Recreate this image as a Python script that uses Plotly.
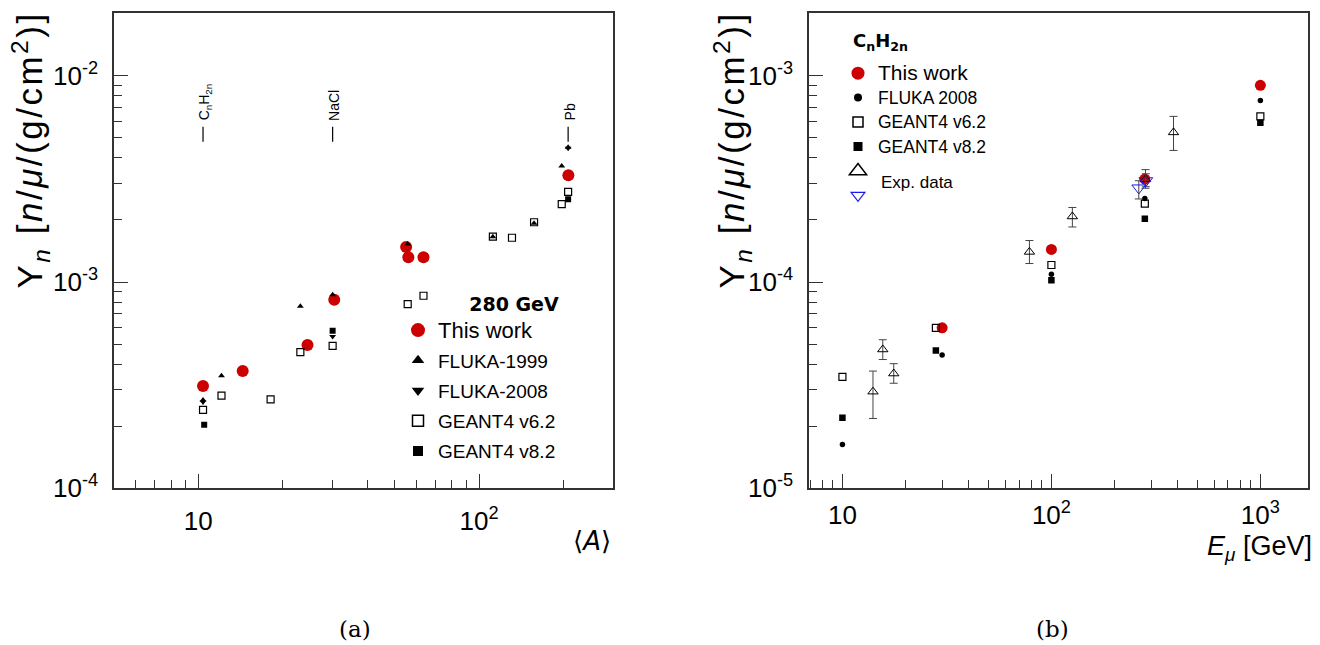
import numpy as np
import plotly.graph_objects as go

# ---------------- Panel (a): 280 GeV, neutron yield vs <A> ----------------
a_this_A = [10.4, 14.4, 24.5, 30.5, 55.0, 56.0, 63.4, 208.0]
a_this_Y = [3.13e-4, 3.70e-4, 4.95e-4, 8.2e-4, 1.48e-3, 1.32e-3, 1.32e-3, 3.30e-3]
a_f99_A = [10.4, 12.1, 23.1, 30.1, 55.7, 112, 157, 197, 207.6]
a_f99_Y = [2.68e-4, 3.51e-4, 7.63e-4, 8.68e-4, 1.53e-3, 1.66e-3, 1.93e-3, 3.65e-3, 4.5e-3]
a_f08_A = [10.4, 30.1, 207.6]
a_f08_Y = [2.62e-4, 5.45e-4, 4.45e-3]
a_g62_A = [10.4, 12.1, 18.1, 23.1, 30.1, 55.7, 63.4, 112, 131, 157, 197, 207.6]
a_g62_Y = [2.40e-4, 2.81e-4, 2.70e-4, 4.57e-4, 4.90e-4, 7.82e-4, 8.58e-4,
           1.66e-3, 1.64e-3, 1.95e-3, 2.39e-3, 2.74e-3]
a_g82_A = [10.5, 30.1, 207.6]
a_g82_Y = [2.03e-4, 5.81e-4, 2.52e-3]
materials = ["C<sub>n</sub>H<sub>2n</sub>", "NaCl", "Pb"]
materials_A = [10.4, 30.1, 207.6]

# ---------------- Panel (b): CnH2n, neutron yield vs E_mu ----------------
b_this_E = [30, 100, 280, 1000]
b_this_Y = [6.0e-5, 1.44e-4, 3.16e-4, 9.0e-4]
b_f08_E = [10, 30, 100, 280, 1000]
b_f08_Y = [1.63e-5, 4.43e-5, 1.09e-4, 2.54e-4, 7.6e-4]
b_g62_E = [10, 28, 100, 280, 1000]
b_g62_Y = [3.47e-5, 6.0e-5, 1.21e-4, 2.40e-4, 6.36e-4]
b_g82_E = [10, 28, 100, 280, 1000]
b_g82_Y = [2.2e-5, 4.65e-5, 1.02e-4, 2.03e-4, 5.92e-4]
b_exp_E = [14.0, 15.6, 17.6, 78.5, 126, 282, 384]
b_exp_Y = [2.94e-5, 4.71e-5, 3.60e-5, 1.40e-4, 2.08e-4, 3.15e-4, 5.32e-4]
b_exp_hi = [3.70e-5, 5.25e-5, 4.02e-5, 1.59e-4, 2.30e-4, 3.51e-4, 6.36e-4]
b_exp_lo = [2.18e-5, 4.21e-5, 3.23e-5, 1.23e-4, 1.85e-4, 2.85e-4, 4.35e-4]
b_lvd_E = [262, 283]
b_lvd_Y = [2.86e-4, 3.10e-4]
b_lvd_hi = [3.10e-4, 3.35e-4]
b_lvd_lo = [2.53e-4, 2.90e-4]

RED = "#cc0000"
FONT = "Liberation Sans"
AX = "#333333"

fig = go.Figure()


def pts(x, y, sym, size, color, xa, ya, lw=1.2, **kw):
    fig.add_trace(go.Scatter(
        x=x, y=y, mode="markers", showlegend=False, xaxis=xa, yaxis=ya,
        marker=dict(symbol=sym, size=size, color=color, line=dict(width=lw, color=color)),
        **kw))


def leg(name, sym, size, color, legend, group, lw=1.3):
    fig.add_trace(go.Scatter(
        x=[None], y=[None], mode="markers", name=name, legend=legend, legendgroup=group,
        marker=dict(symbol=sym, size=size, color=color, line=dict(width=lw, color=color)),
        xaxis="x" if legend == "legend" else "x2", yaxis="y" if legend == "legend" else "y2"))


# panel (a) data
pts(a_this_A, a_this_Y, "circle", 12, RED, "x", "y", lw=0)
pts(a_g62_A, a_g62_Y, "square-open", 7, "black", "x", "y")
pts(a_g82_A, a_g82_Y, "square", 6, "black", "x", "y", lw=0)
pts(a_f08_A, a_f08_Y, "triangle-down", 6, "black", "x", "y", lw=0)
pts(a_f99_A, a_f99_Y, "triangle-up", 6, "black", "x", "y", lw=0)

# panel (b) data
pts(b_this_E, b_this_Y, "circle", 11, RED, "x2", "y2", lw=0)
pts(b_f08_E, b_f08_Y, "circle", 5.5, "black", "x2", "y2", lw=0)
pts(b_g62_E, b_g62_Y, "square-open", 7, "black", "x2", "y2")
pts(b_g82_E, b_g82_Y, "square", 6.5, "black", "x2", "y2", lw=0)
ey = np.array(b_exp_Y)
pts(b_exp_E, b_exp_Y, "triangle-up-open", 9, "black", "x2", "y2", lw=1,
    error_y=dict(type="data", symmetric=False, array=list(np.array(b_exp_hi) - ey),
                 arrayminus=list(ey - np.array(b_exp_lo)), color="#444", thickness=1, width=4))
ly = np.array(b_lvd_Y)
pts(b_lvd_E, b_lvd_Y, "triangle-down-open", 12, "#1a1aee", "x2", "y2", lw=1,
    error_y=dict(type="data", symmetric=False, array=list(np.array(b_lvd_hi) - ly),
                 arrayminus=list(ly - np.array(b_lvd_lo)), color="#444", thickness=1, width=4))

# legends (legend-only entries)
lf = "<span style='font-size:22px'>This work</span>"
leg(lf, "circle", 14, RED, "legend", "a1", lw=0)
leg("FLUKA-1999", "triangle-up", 11, "black", "legend", "a2", lw=0)
leg("FLUKA-2008", "triangle-down", 11, "black", "legend", "a3", lw=0)
leg("GEANT4 v6.2", "square-open", 11, "black", "legend", "a4", lw=1.5)
leg("GEANT4 v8.2", "square", 10, "black", "legend", "a5", lw=0)

lf2 = "<span style='font-size:21px'>This work</span>"
leg(lf2, "circle", 13, RED, "legend2", "b1", lw=0)
leg("<span style='font-size:17.5px'>FLUKA 2008</span>", "circle", 8, "black", "legend2", "b1", lw=0)
leg("<span style='font-size:17.5px'>GEANT4 v6.2</span>", "square-open", 10, "black", "legend2", "b1", lw=1.5)
leg("<span style='font-size:17.5px'>GEANT4 v8.2</span>", "square", 9, "black", "legend2", "b1", lw=0)
leg(" ", "triangle-up-open", 15, "black", "legend2", "b1", lw=1.5)
leg(" ", "triangle-down-open", 12, "#1a1aee", "legend2", "b1", lw=1.2)


def px_to_paper_y(py):
    return 1 - py / 645.0


def px_to_paper_x(px):
    return px / 1320.0


def minors(decades, mults, lo, hi):
    out = []
    for d in decades:
        for m in mults:
            v = m * 10.0 ** d
            if lo < np.log10(v) < hi:
                out.append(v)
    return out


axis_common = dict(type="log", showgrid=False, zeroline=False, showline=True, mirror=True,
                   linecolor=AX, linewidth=1.5, ticks="inside", ticklen=14, tickwidth=1.3,
                   tickcolor=AX, tickfont=dict(family=FONT, size=26, color="black"),
                   tickmode="array")

x1_range = [0.70, 2.477]
y1_range = [-4.0, -1.695]
x2_range = [0.84, 3.228]
y2_range = [-5.0, -2.695]
mults = range(2, 10)

ydom = [px_to_paper_y(489), px_to_paper_y(13)]

fig.update_layout(
    width=1320, height=659, margin=dict(l=0, r=0, t=0, b=0),
    paper_bgcolor="white", plot_bgcolor="white",
    xaxis=dict(axis_common, domain=[px_to_paper_x(114), px_to_paper_x(613)], range=x1_range,
               anchor="y", tickvals=[10, 100], ticktext=["10", "10<sup>2</sup>"],
               ticklabelstandoff=9,
               minor=dict(tickmode="array", tickvals=minors([0, 1, 2], mults, *x1_range),
                          ticks="inside", ticklen=8, tickwidth=1.2, tickcolor=AX)),
    yaxis=dict(axis_common, domain=ydom, range=y1_range, anchor="x",
               tickvals=[1e-4, 1e-3, 1e-2], ticktext=["10<sup>-4</sup>", "10<sup>-3</sup>", "10<sup>-2</sup>"],
               ticklabelstandoff=9,
               minor=dict(tickmode="array", tickvals=minors([-4, -3, -2], mults, *y1_range),
                          ticks="inside", ticklen=8, tickwidth=1.2, tickcolor=AX)),
    xaxis2=dict(axis_common, domain=[px_to_paper_x(809), px_to_paper_x(1308)], range=x2_range,
                anchor="y2", tickvals=[10, 100, 1000], ticktext=["10", "10<sup>2</sup>", "10<sup>3</sup>"],
                ticklabelstandoff=3,
                minor=dict(tickmode="array", tickvals=minors([0, 1, 2], mults, *x2_range),
                           ticks="inside", ticklen=8, tickwidth=1.2, tickcolor=AX)),
    yaxis2=dict(axis_common, domain=ydom, range=y2_range, anchor="x2",
                tickvals=[1e-5, 1e-4, 1e-3], ticktext=["10<sup>-5</sup>", "10<sup>-4</sup>", "10<sup>-3</sup>"],
                ticklabelstandoff=9,
                minor=dict(tickmode="array", tickvals=minors([-5, -4, -3], mults, *y2_range),
                           ticks="inside", ticklen=8, tickwidth=1.2, tickcolor=AX)),
    legend=dict(x=px_to_paper_x(398), y=px_to_paper_y(287), xanchor="left", yanchor="top",
                bgcolor="rgba(0,0,0,0)", font=dict(family=FONT, size=19, color="black"),
                tracegroupgap=2.5, itemclick=False,
                title=dict(text="<b>280 GeV</b>", side="top right",
                           font=dict(family="DejaVu Sans", size=19, color="black"))),
    legend2=dict(x=px_to_paper_x(838), y=px_to_paper_y(56), xanchor="left", yanchor="top",
                 bgcolor="rgba(0,0,0,0)", font=dict(family=FONT, size=16.5, color="black"),
                 tracegroupgap=0, itemclick=False),
)

ann = []
ytitle = ("<span style='letter-spacing:2.5px'>Y<sub><i>n</i></sub> [<i>n</i>/<i>μ</i>/"
          "(g/cm<sup>2</sup>)]</span>")
for xt in (30, 732):
    ann.append(dict(text=ytitle, x=px_to_paper_x(xt), y=px_to_paper_y(10), xref="paper", yref="paper",
                    xanchor="center", yanchor="top", textangle=-90, showarrow=False,
                    font=dict(family=FONT, size=35, color="black")))
ann.append(dict(text="⟨<i>A</i>⟩", x=px_to_paper_x(613), y=px_to_paper_y(542), xref="paper", yref="paper",
                xanchor="right", yanchor="middle", showarrow=False,
                font=dict(family="DejaVu Sans", size=26, color="black")))
ann.append(dict(text="<i>E</i><sub><i>μ</i></sub> [GeV]", x=px_to_paper_x(1314), y=px_to_paper_y(549),
                xref="paper", yref="paper", xanchor="right", yanchor="middle", showarrow=False,
                font=dict(family=FONT, size=27, color="black")))
ann.append(dict(text="(a)", x=px_to_paper_x(355), y=px_to_paper_y(630), xref="paper", yref="paper",
                xanchor="center", yanchor="middle", showarrow=False,
                font=dict(family="DejaVu Serif", size=23, color="black")))
ann.append(dict(text="(b)", x=px_to_paper_x(1052), y=px_to_paper_y(630), xref="paper", yref="paper",
                xanchor="center", yanchor="middle", showarrow=False,
                font=dict(family="DejaVu Serif", size=23, color="black")))
ann.append(dict(text="Exp. data", x=px_to_paper_x(879), y=px_to_paper_y(183), xref="paper", yref="paper",
                xanchor="left", yanchor="middle", showarrow=False,
                font=dict(family=FONT, size=17, color="black")))
ann.append(dict(text="<b>C<sub>n</sub>H<sub>2n</sub></b>", x=px_to_paper_x(851), y=px_to_paper_y(42),
                xref="paper", yref="paper", xanchor="left", yanchor="middle", showarrow=False,
                font=dict(family="DejaVu Sans", size=18, color="black")))

shapes = []
for name, A in zip(materials, materials_A):
    ann.append(dict(text=name, x=np.log10(A), y=px_to_paper_y(123), xref="x", yref="paper",
                    xanchor="center", yanchor="bottom", textangle=-90, showarrow=False,
                    xshift=2, font=dict(family=FONT, size=14, color="black")))
    shapes.append(dict(type="line", xref="x", yref="paper", x0=A, x1=A,
                       y0=px_to_paper_y(142), y1=px_to_paper_y(127),
                       line=dict(color="black", width=1.2)))

fig.update_layout(annotations=ann, shapes=shapes)

fix_page = (
    "var d=document.getElementsByClassName('plotly-graph-div')[0];"
    "var h=document.documentElement, b=document.body, w=d.parentElement;"
    "h.style.margin='0';h.style.padding='0';h.style.overflow='hidden';"
    "b.style.margin='0';b.style.padding='0';b.style.overflow='hidden';"
    "w.style.overflow='hidden';"
)
fig.write_html("out.html", config={"displayModeBar": False}, post_script=fix_page)
